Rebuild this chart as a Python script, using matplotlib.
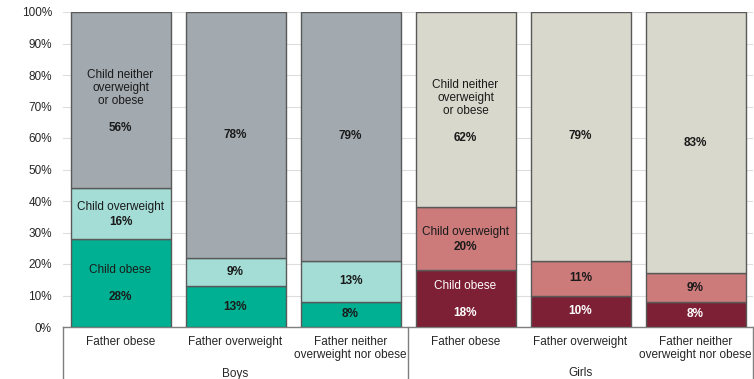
import matplotlib
matplotlib.use("Agg")
import matplotlib.pyplot as plt
from matplotlib.transforms import blended_transform_factory

plt.rcParams['font.family'] = ['Liberation Sans', 'DejaVu Sans']

# Children's weight status by father's weight status
fathers = ["Father obese", "Father overweight", "Father neither\noverweight nor obese"]
groups = ["Boys", "Girls"]
obese = [28, 13, 8, 18, 10, 8]
overweight = [16, 9, 13, 20, 11, 9]
neither = [56, 78, 79, 62, 79, 83]

boys_colors = ["#00B092", "#A3DDD6", "#A2AAB0"]
girls_colors = ["#7E2035", "#CC7A7A", "#D9D8CC"]

fig = plt.figure(figsize=(7.54, 3.79), dpi=100)
W, H = 754, 379
ax = fig.add_axes([63 / W, (H - 327) / H, 690 / W, 315 / H])

n = len(obese)
xs = [i + 0.5 for i in range(n)]
width = 100 / 115

for i in range(n):
    cols = boys_colors if i < 3 else girls_colors
    b0 = 0
    for val, c in zip([obese[i], overweight[i], neither[i]], cols):
        ax.bar(xs[i], val, bottom=b0, width=width, color=c,
               edgecolor="#595959", linewidth=1.0, zorder=3)
        b0 += val

PX = 72 / 100  # pixels to points


def seg_label(x, bottom, val, name, name_dy, val_dy, color):
    yc = bottom + val / 2
    if name:
        ax.annotate(name, (x, yc), xytext=(0, name_dy * PX), textcoords="offset points",
                    ha="center", va="center", fontsize=8.5, color=color, zorder=5,
                    linespacing=1.1)
    ax.annotate(f"{val}%", (x, yc), xytext=(0, val_dy * PX), textcoords="offset points",
                ha="center", va="center", fontsize=8.5, fontweight="bold", color=color, zorder=5)


for i in range(n):
    o, ov, ne = obese[i], overweight[i], neither[i]
    first = i % 3 == 0
    obese_txt = "white" if i >= 3 else "#1a1a1a"
    if first:
        seg_label(xs[i], 0, o, "Child obese", 13, -14, obese_txt)
        seg_label(xs[i], o, ov, "Child overweight", 7, -8, "#1a1a1a")
        seg_label(xs[i], o + ov, ne, "Child neither\noverweight\nor obese", 12, -28, "#1a1a1a")
    else:
        seg_label(xs[i], 0, o, None, 0, 0, obese_txt)
        seg_label(xs[i], o, ov, None, 0, 0, "#1a1a1a")
        seg_label(xs[i], o + ov, ne, None, 0, 0, "#1a1a1a")

ax.set_xlim(0, n)
ax.set_ylim(0, 100)
ax.set_yticks(range(0, 101, 10))
ax.set_yticklabels([f"{v}%" for v in range(0, 101, 10)], fontsize=8.5, color="#262626")
ax.tick_params(axis="y", length=0, pad=8)
ax.set_xticks([])
ax.grid(axis="y", color="#DDDDDD", linewidth=0.8, zorder=0)
for s in ["left", "right", "top"]:
    ax.spines[s].set_visible(False)
ax.spines["bottom"].set_color("#7F7F7F")
ax.spines["bottom"].set_linewidth(1.0)

# Category table below the bars
tr = blended_transform_factory(ax.transData, fig.transFigure)
y_axis = (H - 327) / H
for xv in [0, 3, 6]:
    ax.plot([xv, xv], [y_axis, 0], transform=tr, color="#7F7F7F", lw=1.0, clip_on=False)
for i in range(n):
    ax.text(xs[i], (H - 336) / H, fathers[i % 3], transform=tr, ha="center", va="top",
            fontsize=8.5, color="#262626", linespacing=1.15)
for g, name in enumerate(groups):
    ax.text(1.5 + 3 * g, (H - 373.5) / H, name, transform=tr, ha="center", va="center",
            fontsize=8.5, color="#262626")

fig.savefig("out.png", dpi=100)
